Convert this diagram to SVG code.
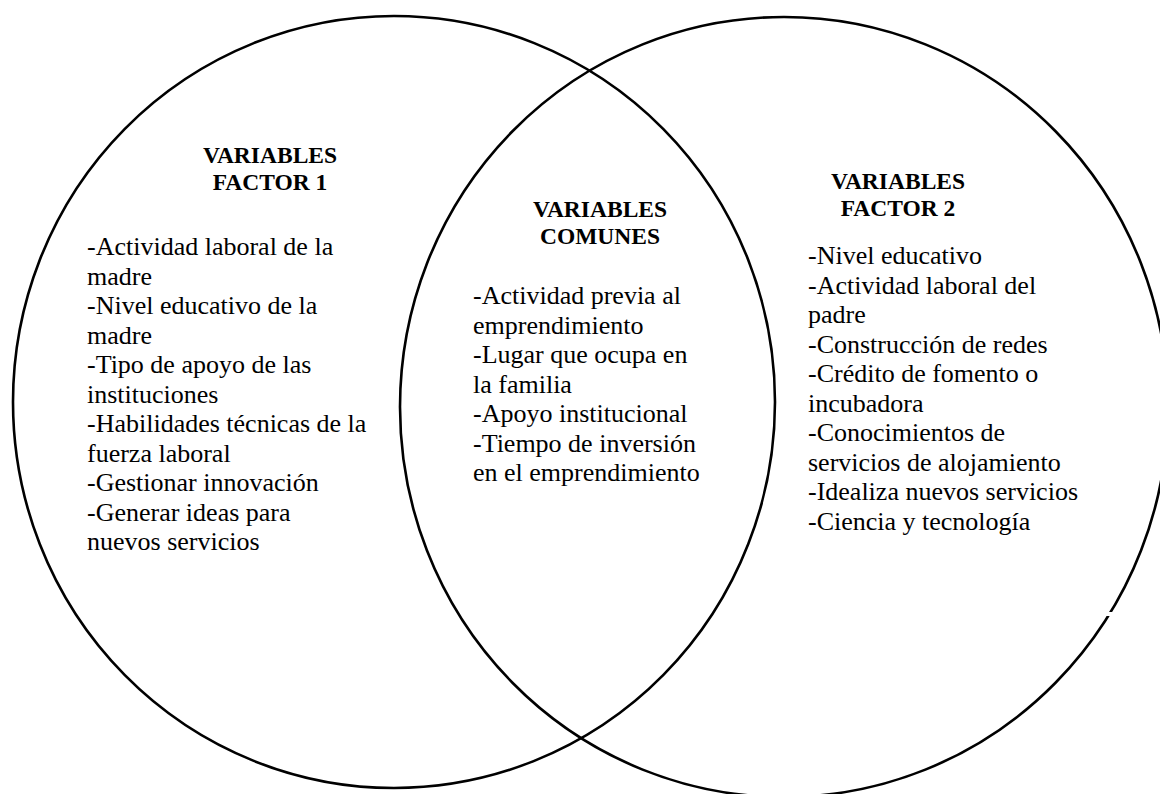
<svg xmlns="http://www.w3.org/2000/svg" width="1160" height="794" viewBox="0 0 1160 794">
  <style>
    .ring { fill: none; stroke: #000; stroke-width: 2.6; }
    .title { font-family: "Liberation Serif", "Times New Roman", serif; font-weight: bold; font-size: 23.5px; fill: #000; text-anchor: middle; }
    .body { font-family: "Liberation Serif", "Times New Roman", serif; font-size: 26px; fill: #000; }
  </style>
  <rect x="0" y="0" width="1160" height="794" fill="#fff"/>
  <g id="circles">
    <ellipse id="circle-factor1" class="ring" cx="394" cy="402" rx="381" ry="386"/>
    <ellipse id="circle-factor2" class="ring" cx="784" cy="407" rx="384" ry="390"/>
    <rect x="1106" y="612" width="9" height="4" fill="#fff"/>
  </g>
  <g id="factor1">
    <text class="title" x="270" y="163">VARIABLES</text>
    <text class="title" x="270" y="190">FACTOR 1</text>
    <text class="body" x="87" y="255">
      <tspan x="87" y="255">-Actividad laboral de la</tspan>
      <tspan x="87" dy="29.5">madre</tspan>
      <tspan x="87" dy="29.5">-Nivel educativo de la</tspan>
      <tspan x="87" dy="29.5">madre</tspan>
      <tspan x="87" dy="29.5">-Tipo de apoyo de las</tspan>
      <tspan x="87" dy="29.5">instituciones</tspan>
      <tspan x="87" dy="29.5">-Habilidades técnicas de la</tspan>
      <tspan x="87" dy="29.5">fuerza laboral</tspan>
      <tspan x="87" dy="29.5">-Gestionar innovación</tspan>
      <tspan x="87" dy="29.5">-Generar ideas para</tspan>
      <tspan x="87" dy="29.5">nuevos servicios</tspan>
    </text>
  </g>
  <g id="comunes">
    <text class="title" x="600" y="217">VARIABLES</text>
    <text class="title" x="600" y="244">COMUNES</text>
    <text class="body" x="473" y="304">
      <tspan x="473" y="304">-Actividad previa al</tspan>
      <tspan x="473" dy="29.5">emprendimiento</tspan>
      <tspan x="473" dy="29.5">-Lugar que ocupa en</tspan>
      <tspan x="473" dy="29.5">la familia</tspan>
      <tspan x="473" dy="29.5">-Apoyo institucional</tspan>
      <tspan x="473" dy="29.5">-Tiempo de inversión</tspan>
      <tspan x="473" dy="29.5">en el emprendimiento</tspan>
    </text>
  </g>
  <g id="factor2">
    <text class="title" x="898" y="189">VARIABLES</text>
    <text class="title" x="898" y="216">FACTOR 2</text>
    <text class="body" x="808" y="264">
      <tspan x="808" y="264">-Nivel educativo</tspan>
      <tspan x="808" dy="29.5">-Actividad laboral del</tspan>
      <tspan x="808" dy="29.5">padre</tspan>
      <tspan x="808" dy="29.5">-Construcción de redes</tspan>
      <tspan x="808" dy="29.5">-Crédito de fomento o</tspan>
      <tspan x="808" dy="29.5">incubadora</tspan>
      <tspan x="808" dy="29.5">-Conocimientos de</tspan>
      <tspan x="808" dy="29.5">servicios de alojamiento</tspan>
      <tspan x="808" dy="29.5">-Idealiza nuevos servicios</tspan>
      <tspan x="808" dy="29.5">-Ciencia y tecnología</tspan>
    </text>
  </g>
</svg>
